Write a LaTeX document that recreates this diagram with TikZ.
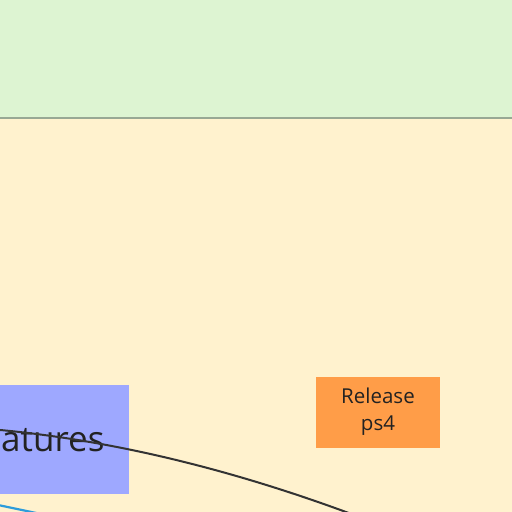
\documentclass[tikz,border=0pt]{standalone}
\usepackage{fontspec}
\setmainfont{Open Sans}
\usetikzlibrary{calc}
\definecolor{topband}{RGB}{221,244,210}
\definecolor{lane}{RGB}{255,242,206}
\definecolor{laneline}{RGB}{152,168,148}
\definecolor{featblue}{RGB}{158,168,255}
\definecolor{relorange}{RGB}{255,157,72}
\definecolor{ink}{RGB}{34,34,34}
\definecolor{wire}{RGB}{51,51,51}
\definecolor{wireblue}{RGB}{45,156,219}
\tikzset{sticky/.style={draw=none, inner sep=0pt, text=ink, align=center}}

\begin{document}
\begin{tikzpicture}[x=1pt,y=-1pt]
\useasboundingbox (0,0) rectangle (512,512);
\clip (0,0) rectangle (512,512);
\fill[topband] (0,0) rectangle (512,118);
\fill[lane] (0,118) rectangle (512,512);
\draw[laneline, line width=1.2pt] (0,118)--(512,118);
\node[sticky, fill=featblue, minimum width=190pt, minimum height=109pt, font=\fontsize{35}{42}\selectfont] (feat) at (34,439.5) {Features};
\node[sticky, fill=relorange, minimum width=124pt, minimum height=71pt, font=\fontsize{20.5}{27}\selectfont] (rel) at (378,412) {Release\\ps4};
\coordinate (wireA) at (-60,426);
\coordinate (wireB) at (388,528);
\coordinate (blueA) at (-40,497);
\coordinate (blueB) at (60,518);
\draw[wire, line width=2pt] (wireA) .. controls (80,431.3) and (229.3,465.3) .. (wireB);
\draw[wireblue, line width=2.2pt] (blueA)--(blueB);
\end{tikzpicture}
\end{document}
